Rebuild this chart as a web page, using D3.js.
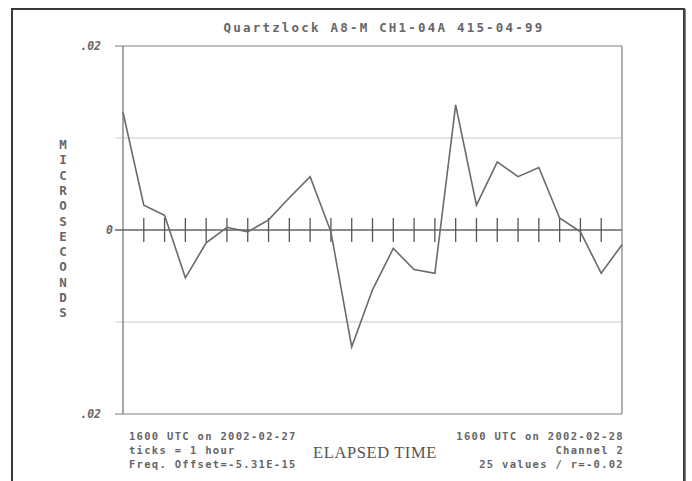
<!DOCTYPE html>
<html><head><meta charset="utf-8">
<script src="https://cdn.jsdelivr.net/npm/d3@7"></script>
<style>
html,body{margin:0;padding:0;background:#fff;}
svg{display:block;}
</style></head>
<body>
<svg id="chart" width="692" height="481"></svg>
<script>
const title = "Quartzlock A8-M CH1-04A 415-04-99";
const hours = d3.range(0, 25);
const values = [0.0128, 0.0027, 0.0016, -0.0052, -0.0014, 0.0003, -0.0002, 0.0011, 0.0035, 0.0058,
  -0.0002, -0.0127, -0.0065, -0.0020, -0.0043, -0.0047, 0.0136, 0.0027, 0.0074, 0.0058,
  0.0068, 0.0013, -0.0002, -0.0047, -0.0016];
const yTickValues = [0.02, 0, -0.02];
const yTickLabels = [".02", "0", ".02"];
const gridValues = [0.01, -0.01];
const yTitle = "MICROSECONDS";
const xTitle = "ELAPSED TIME";
const leftNotes = ["1600 UTC on 2002-02-27", "ticks = 1 hour", "Freq. Offset=-5.31E-15"];
const rightNotes = ["1600 UTC on 2002-02-28", "Channel 2", "25 values / r=-0.02"];

const svg = d3.select("#chart");
const L = 123, R = 622, T = 46, B = 414;
const x = d3.scaleLinear().domain([0, 24]).range([L, R]);
const y = d3.scaleLinear().domain([-0.02, 0.02]).range([B, T]);
const mono = "'DejaVu Sans Mono', 'Liberation Mono', monospace";

// outer frame
svg.append("path").attr("d", `M12,500 L12,9 L684,9 L684,500`)
  .attr("fill", "none").attr("stroke", "#3a3a3a").attr("stroke-width", 2);
svg.append("line").attr("x1", 685).attr("x2", 685).attr("y1", 9).attr("y2", 481)
  .attr("stroke", "#555").attr("stroke-width", 1.5);

// title
svg.append("text").attr("x", 384).attr("y", 32).attr("text-anchor", "middle")
  .attr("font-family", mono).attr("font-weight", "bold").attr("font-size", 12.5)
  .attr("letter-spacing", 2.2).attr("fill", "#666").text(title);

// gridlines
svg.selectAll(".grid").data(gridValues).join("line")
  .attr("x1", L - 7).attr("x2", R).attr("y1", d => y(d)).attr("y2", d => y(d))
  .attr("stroke", "#c8c8c8").attr("stroke-width", 1);

// plot box
svg.append("line").attr("x1", L - 8).attr("x2", R).attr("y1", T).attr("y2", T).attr("stroke", "#aaa").attr("stroke-width", 1.5);
svg.append("line").attr("x1", L - 8).attr("x2", R).attr("y1", B).attr("y2", B).attr("stroke", "#aaa").attr("stroke-width", 1.5);
svg.append("line").attr("x1", R).attr("x2", R).attr("y1", T).attr("y2", B).attr("stroke", "#999").attr("stroke-width", 1.5);
svg.append("line").attr("x1", L).attr("x2", L).attr("y1", T).attr("y2", B).attr("stroke", "#888").attr("stroke-width", 1.5);

// zero line
svg.append("line").attr("x1", L - 8).attr("x2", R).attr("y1", y(0)).attr("y2", y(0))
  .attr("stroke", "#666").attr("stroke-width", 1.5);

// hour ticks on zero line
svg.selectAll(".htick").data(hours.slice(1, 24)).join("line")
  .attr("x1", d => x(d)).attr("x2", d => x(d))
  .attr("y1", y(0) - 12).attr("y2", y(0) + 12)
  .attr("stroke", "#555").attr("stroke-width", 1.3);

// y labels
svg.selectAll(".ylab").data(yTickValues).join("text")
  .attr("x", (d, i) => i === 1 ? 113 : 101).attr("y", d => y(d) + 4)
  .attr("text-anchor", "end").attr("font-family", mono).attr("font-weight", "bold")
  .attr("font-style", "italic").attr("font-size", 11.5).attr("fill", "#666")
  .text((d, i) => yTickLabels[i]);

// y title stacked letters
svg.selectAll(".ytl").data(yTitle.split("")).join("text")
  .attr("x", 63).attr("y", (d, i) => 149 + i * 15.3).attr("text-anchor", "middle")
  .attr("font-family", mono).attr("font-weight", "bold").attr("font-size", 12.5)
  .attr("fill", "#666").text(d => d);

// data line
svg.append("path").datum(values)
  .attr("d", d3.line().x((d, i) => x(hours[i])).y(d => y(d)))
  .attr("fill", "none").attr("stroke", "#6a6a6a").attr("stroke-width", 1.6)
  .attr("stroke-linejoin", "miter");

// notes
svg.selectAll(".ln").data(leftNotes).join("text")
  .attr("x", 129).attr("y", (d, i) => 440 + i * 14)
  .attr("font-family", mono).attr("font-weight", "bold").attr("font-size", 10.5)
  .attr("letter-spacing", 1.3).attr("fill", "#666").text(d => d);
svg.selectAll(".rn").data(rightNotes).join("text")
  .attr("x", 624).attr("y", (d, i) => 440 + i * 14).attr("text-anchor", "end")
  .attr("font-family", mono).attr("font-weight", "bold").attr("font-size", 10.5)
  .attr("letter-spacing", 1.3).attr("fill", "#666").text(d => d);

svg.append("text").attr("x", 375).attr("y", 458).attr("text-anchor", "middle")
  .attr("font-family", "'Liberation Serif', serif").attr("font-size", 16.5)
  .attr("letter-spacing", 0.6).attr("fill", "#555").text(xTitle);
</script>
</body></html>
